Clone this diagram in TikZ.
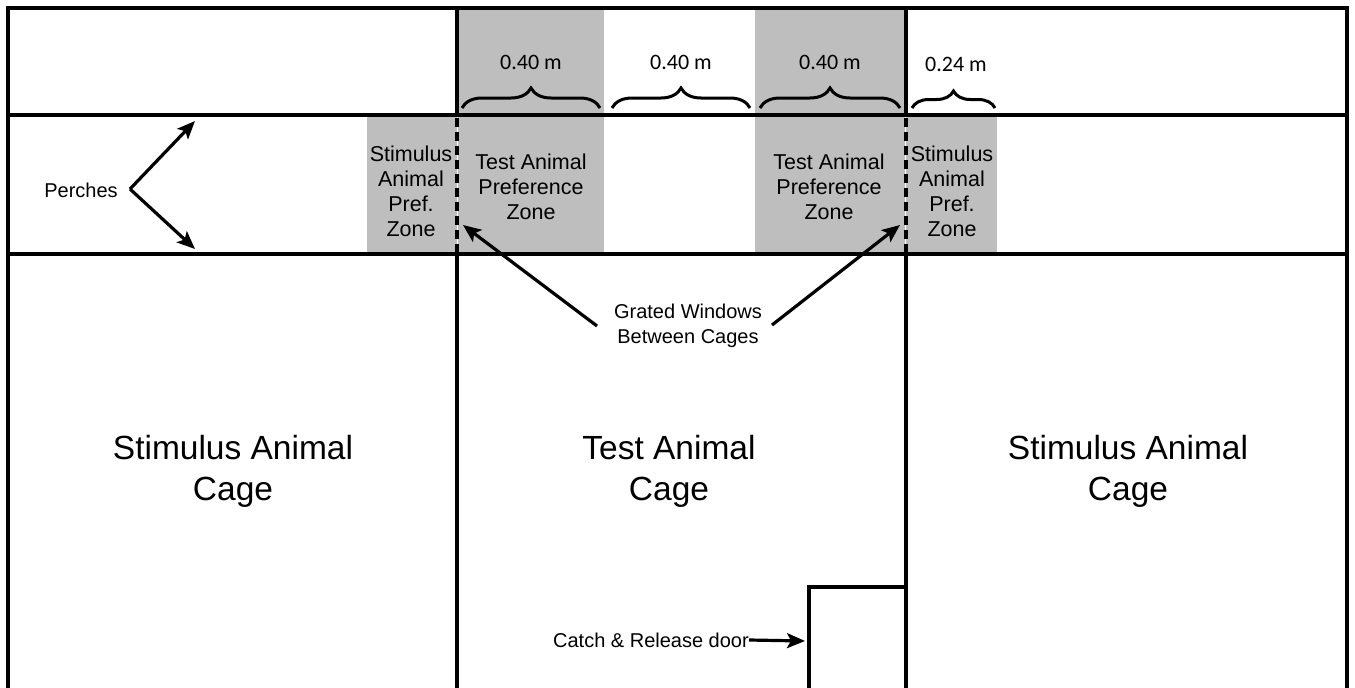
\documentclass[tikz,border=0pt]{standalone}
\usepackage{fontspec}
\setmainfont{Liberation Sans}
\newfontfamily\calfont{Carlito}
\usetikzlibrary{arrows.meta,decorations.pathreplacing}
\definecolor{zonegray}{RGB}{190,190,190}
\begin{document}
\begin{tikzpicture}[x=1pt,y=-1pt,
 wall/.style={line width=3.6pt},
 zone/.style={fill=zonegray, draw=none},
 grate/.style={line width=3.6pt, dash pattern=on 9pt off 5pt},
 lbl/.style={font=\fontsize{20}{25}\selectfont, align=center, inner sep=0pt},
 zlbl/.style={font=\fontsize{21.5}{25}\selectfont, align=center, inner sep=0pt},
 big/.style={font=\fontsize{33.5}{41}\selectfont, align=center, inner sep=0pt},
 dim/.style={font=\calfont\fontsize{22}{24}\selectfont, inner sep=0pt},
 brc/.style={decorate, decoration={brace, amplitude=#1, aspect=0.5}, line width=3pt},
 brc/.default=20pt,
 arr/.style={line width=3.2pt, -{Stealth[length=18pt,width=15pt,inset=4pt]}}]
\useasboundingbox (0,0) rectangle (1355,688);
\fill[white] (0,0) rectangle (1355,688);
% preference zones
\fill[zone] (458,9) rectangle (604,253);
\fill[zone] (755,9) rectangle (905,253);
\fill[zone] (367,116) rectangle (457,253);
\fill[zone] (906,116) rectangle (997,253);
% walls
\draw[wall] (8,688) -- (8,8) -- (1347,8) -- (1347,688);
\draw[wall] (8,115) -- (1347,115);
\draw[wall] (8,254) -- (1347,254);
\draw[wall] (457,8) -- (457,115);
\draw[grate] (457,118) -- (457,254);
\draw[wall] (457,254) -- (457,688);
\draw[wall] (906,8) -- (906,115);
\draw[grate] (906,118) -- (906,254);
\draw[wall] (906,254) -- (906,688);
% catch & release door
\draw[wall] (809,688) -- (809,587) -- (906,587);
\coordinate (door) at (805,641);
% braces and dimensions
\draw[brc] (462,108) -- (600,108);
\draw[brc] (612,108) -- (750,108);
\draw[brc] (760,108) -- (900,108);
\draw[brc=17pt] (912,108) -- (995,108);
\node[dim] (d1) at (531,62) {0.40 m};
\node[dim] (d2) at (681,62) {0.40 m};
\node[dim] (d3) at (830,62) {0.40 m};
\node[dim] (d4) at (956,64) {0.24 m};
% zone labels
\node[zlbl] (sl) at (411,191) {Stimulus\\Animal\\Pref.\\Zone};
\node[zlbl] (tl) at (531,187) {Test Animal\\Preference\\Zone};
\node[zlbl] (tr) at (829,187) {Test Animal\\Preference\\Zone};
\node[zlbl] (sr) at (952,191) {Stimulus\\Animal\\Pref.\\Zone};
% perches
\node[lbl] (perch) at (81,190) {Perches};
\coordinate (pv) at (130,189);
\coordinate (ptop) at (195,121);
\coordinate (pbot) at (195,249);
\draw[arr] (pv) -- (ptop);
\draw[arr] (pv) -- (pbot);
% grated windows
\node[lbl] (grated) at (688,326) {Grated Windows\\Between Cages};
\coordinate (gl) at (597,326);
\coordinate (gr) at (772,325);
\coordinate (wl) at (463,225);
\coordinate (wr) at (900,225);
\draw[arr] (gl) -- (wl);
\draw[arr] (gr) -- (wr);
% cage labels
\node[big] (c1) at (233,471) {Stimulus Animal\\Cage};
\node[big] (c2) at (669,471) {Test Animal\\Cage};
\node[big] (c3) at (1128,471) {Stimulus Animal\\Cage};
% catch label
\node[lbl, anchor=east] (catch) at (749,640) {Catch \& Release door};
\draw[arr] (catch.east) -- (door);
\end{tikzpicture}
\end{document}
